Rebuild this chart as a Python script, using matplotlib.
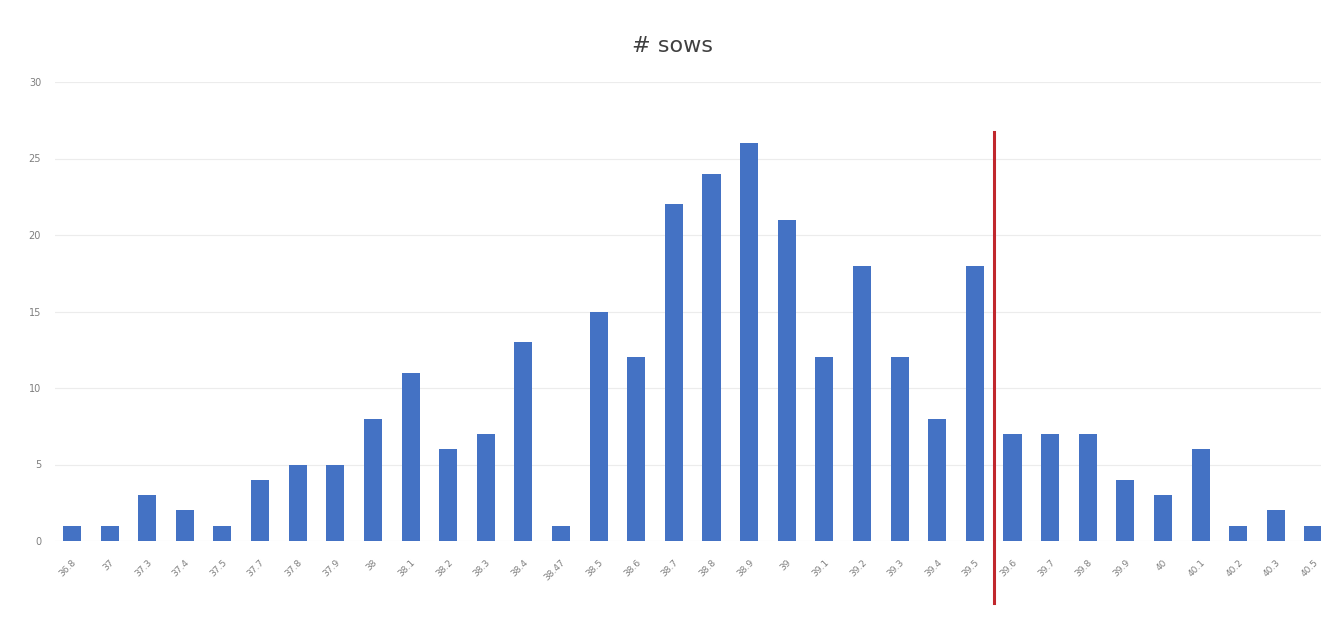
import matplotlib.pyplot as plt
import numpy as np

# temperature categories and number of sows per category
labels = ["36.8", "37", "37.3", "37.4", "37.5", "37.7", "37.8", "37.9", "38", "38.1",
          "38.2", "38.3", "38.4", "38.47", "38.5", "38.6", "38.7", "38.8", "38.9", "39",
          "39.1", "39.2", "39.3", "39.4", "39.5", "39.6", "39.7", "39.8", "39.9", "40",
          "40.1", "40.2", "40.3", "40.5"]
counts = [1, 1, 3, 2, 1, 4, 5, 5, 8, 11, 6, 7, 13, 1, 15, 12, 22, 24, 26, 21,
          12, 18, 12, 8, 18, 7, 7, 7, 4, 3, 6, 1, 2, 1]
yticks = [0, 5, 10, 15, 20, 25, 30]
cutoff_pos = 24.5   # red line sits between 39.5 and 39.6
cutoff_top = 26.7

fig = plt.figure(figsize=(13.21, 6.28), dpi=100)
ax = fig.add_axes([55/1321, 87/628, 1 - 55/1321, 459/628])

x = np.arange(len(labels))
ax.bar(x, counts, width=0.48, color="#4472c4", zorder=3)

ax.set_xlim(-0.45, 33.2)
ax.set_ylim(0, 30)
ax.set_yticks(yticks)
ax.set_yticklabels([str(v) for v in yticks], fontsize=7, color="#7f7f7f")
ax.set_xticks(x)
ax.set_xticklabels(labels, rotation=45, fontsize=6.5, color="#7f7f7f",
                   ha="right", rotation_mode="anchor")
ax.tick_params(axis="y", length=0, pad=10)
ax.tick_params(axis="x", length=0, pad=12)
ax.grid(axis="y", color="#ececec", linewidth=0.8, zorder=0)
for s in ax.spines.values():
	s.set_visible(False)

# cutoff line, runs below the axis
ax.plot([cutoff_pos, cutoff_pos], [-4.05, cutoff_top], color="#c0272d", linewidth=2.2, clip_on=False, zorder=4)

fig.text(672/1321, 1 - 46/628, "# sows", ha="center", va="center", fontsize=16, color="#404040")

fig.savefig("out.png", dpi=100)
